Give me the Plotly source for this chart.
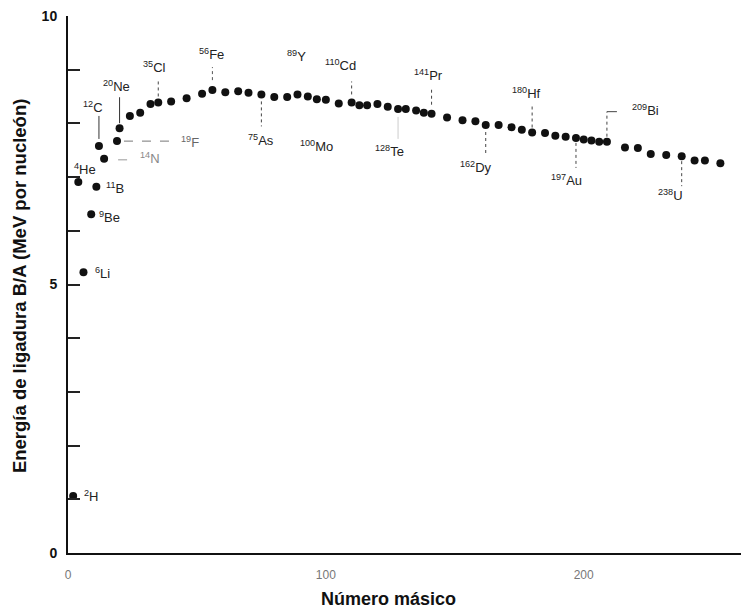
import plotly.graph_objects as go

# Mass number A and binding energy per nucleon B/A (MeV)
mass_number = [2, 4, 6, 9, 11, 12, 14, 19, 20, 24, 28, 32, 35, 40, 46, 52, 56, 61, 66, 70,
               75, 80, 85, 89, 93, 96.5, 100, 105, 110, 113, 116, 120, 124, 128, 131, 135, 138,
               141, 147, 153, 158, 162, 167, 172, 176, 180, 185, 189, 193, 197, 200, 203, 206,
               209, 216, 221, 226, 232, 238, 243, 247, 253]
binding_energy = [1.06, 6.91, 5.23, 6.31, 6.82, 7.58, 7.34, 7.67, 7.91, 8.14, 8.20, 8.36, 8.39,
                  8.41, 8.47, 8.55, 8.62, 8.58, 8.60, 8.57, 8.54, 8.49, 8.49, 8.54, 8.50, 8.45,
                  8.44, 8.37, 8.39, 8.34, 8.34, 8.36, 8.31, 8.27, 8.27, 8.24, 8.20, 8.18, 8.11,
                  8.06, 8.04, 7.97, 7.97, 7.93, 7.88, 7.83, 7.82, 7.77, 7.75, 7.73, 7.70, 7.68,
                  7.66, 7.66, 7.55, 7.54, 7.43, 7.41, 7.39, 7.31, 7.31, 7.26]

# Labelled nuclides: mass number and element symbol
nuclide_mass = [2, 4, 6, 9, 11, 12, 14, 19, 20, 35, 56, 75, 89, 100, 110, 128, 141, 162, 180,
                197, 209, 238]
nuclide_symbol = ["H", "He", "Li", "Be", "B", "C", "N", "F", "Ne", "Cl", "Fe", "As", "Y", "Mo",
                  "Cd", "Te", "Pr", "Dy", "Hf", "Au", "Bi", "U"]

y_tick_values = [0, 1, 2, 3, 4, 5, 6, 7, 8, 9, 10]
y_tick_text = ["<b>0</b>", "", "", "", "", "<b>5</b>", "", "", "", "", "<b>10</b>"]
x_tick_values = [0, 100, 200]
x_tick_text = ["0", "100", "200"]

FONT = "Liberation Sans, Arial, sans-serif"

# Placement of each nuclide label relative to its dot (pixels):
# text anchor, x/y shift, colour, and optional leader segments (dx0, dy0, dx1, dy1, dash, colour)
label_style = {
    2:   dict(anchor="left", dx=9, dy=0),
    4:   dict(anchor="left", dx=-6, dy=13),
    6:   dict(anchor="left", dx=10, dy=-1),
    9:   dict(anchor="left", dx=6, dy=-3),
    11:  dict(anchor="left", dx=8, dy=-1),
    12:  dict(anchor="center", dx=-6, dy=39, lead=[(0, 7, 0, 30, "solid", "#333")]),
    14:  dict(anchor="left", dx=34, dy=1, color="#888", lead=[(14, -1, 27, -1, "dash", "#999")]),
    19:  dict(anchor="left", dx=62, dy=-1, color="#666", lead=[(7, 0, 58, 0, "dash", "#777")]),
    20:  dict(anchor="center", dx=-3, dy=42, lead=[(0, 5, 0, 31, "solid", "#333")]),
    35:  dict(anchor="center", dx=-4, dy=35, lead=[(0, 6, 0, 23, "dot", "#444")]),
    56:  dict(anchor="center", dx=-1, dy=36, lead=[(0, 10, 0, 23, "dot", "#555")]),
    75:  dict(anchor="center", dx=0, dy=-46, lead=[(0, -7, 0, -32, "dot", "#444")]),
    89:  dict(anchor="center", dx=-1, dy=38),
    100: dict(anchor="center", dx=-9, dy=-46),
    110: dict(anchor="center", dx=-11, dy=37, lead=[(0, 8, 0, 21, "dot", "#444")]),
    128: dict(anchor="center", dx=-9, dy=-42, lead=[(0, -8, 0, -30, "solid", "#ccc")]),
    141: dict(anchor="center", dx=-3, dy=39, lead=[(0, 9, 0, 25, "dot", "#444")]),
    162: dict(anchor="center", dx=-10, dy=-42, lead=[(0, -7, 0, -28, "dot", "#444")]),
    180: dict(anchor="center", dx=-6, dy=40, lead=[(0, 5, 0, 27, "dot", "#444")]),
    197: dict(anchor="center", dx=-9, dy=-42, lead=[(0, -5, 0, -30, "dot", "#444")]),
    209: dict(anchor="left", dx=23, dy=32,
              lead=[(0, 5, 0, 30, "dot", "#444"), (0, 30, 10, 30, "solid", "#444")]),
    238: dict(anchor="center", dx=-11, dy=-39, lead=[(0, -5, 0, -30, "dot", "#444")]),
}

energy_of = dict(zip(mass_number, binding_energy))

fig = go.Figure()
fig.add_trace(go.Scatter(
    x=mass_number, y=binding_energy, mode="markers",
    marker=dict(size=8, color="#111111", line=dict(width=0)),
    cliponaxis=False, hoverinfo="x+y", showlegend=False,
))

annotations = []
shapes = []
for a, sym in zip(nuclide_mass, nuclide_symbol):
    b = energy_of[a]
    st = label_style[a]
    annotations.append(dict(
        x=a, y=b, xref="x", yref="y", showarrow=False,
        text=f"<sup>{a}</sup>{sym}", xanchor=st["anchor"], yanchor="middle",
        xshift=st["dx"], yshift=st["dy"],
        font=dict(family=FONT, size=13, color=st.get("color", "#222")),
    ))
    for dx0, dy0, dx1, dy1, dash, col in st.get("lead", []):
        shapes.append(dict(
            type="line", xref="x", yref="y", xsizemode="pixel", ysizemode="pixel",
            xanchor=a, yanchor=b, x0=dx0, x1=dx1, y0=dy0, y1=dy1,
            line=dict(color=col, width=1, dash=dash),
        ))

# Axis titles
annotations.append(dict(
    x=-0.0728, y=0.497, xref="paper", yref="paper", showarrow=False, textangle=-90,
    text="<b>Energía de ligadura B/A (MeV por nucleón)</b>",
    xanchor="center", yanchor="middle",
    font=dict(family=FONT, size=18.5, color="#111"),
))
annotations.append(dict(
    x=0.476, y=-0.085, xref="paper", yref="paper", showarrow=False,
    text="<b>Número másico</b>", xanchor="center", yanchor="middle",
    font=dict(family=FONT, size=18, color="#111"),
))

fig.update_layout(
    width=741, height=609,
    margin=dict(l=68, r=0, t=16, b=56),
    paper_bgcolor="white", plot_bgcolor="white",
    annotations=annotations, shapes=shapes,
    xaxis=dict(
        range=[0, 261], showgrid=False, zeroline=False,
        showline=True, linewidth=2, linecolor="#111",
        tickmode="array", tickvals=x_tick_values, ticktext=x_tick_text,
        ticks="", ticklabelstandoff=10,
        tickfont=dict(family=FONT, size=12, color="#777"),
    ),
    yaxis=dict(
        range=[0, 10], showgrid=False, zeroline=False,
        showline=True, linewidth=2, linecolor="#111",
        tickmode="array", tickvals=y_tick_values, ticktext=y_tick_text,
        ticks="inside", ticklen=12, tickwidth=1.5, tickcolor="#222",
        ticklabelstandoff=6,
        tickfont=dict(family=FONT, size=14, color="#111"),
    ),
)

fig.write_html("out.html")
